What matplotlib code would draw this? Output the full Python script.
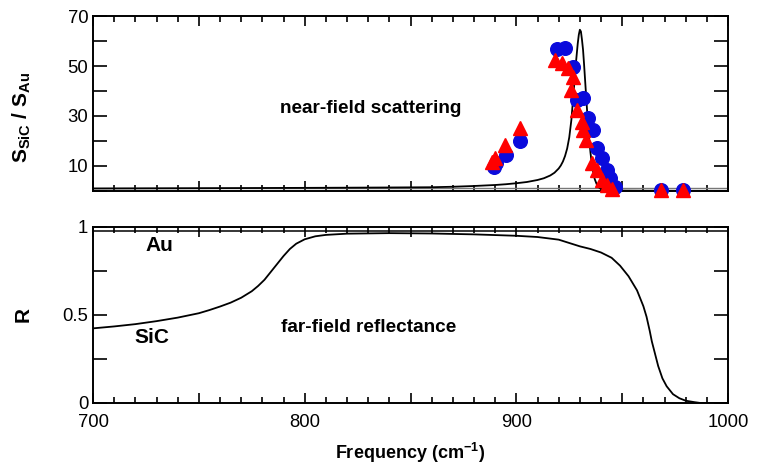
import matplotlib
matplotlib.use("Agg")
import matplotlib.pyplot as plt
from matplotlib.ticker import MultipleLocator, FuncFormatter

plt.rcParams['font.family'] = ['Liberation Sans', 'DejaVu Sans']
plt.rcParams['mathtext.fontset'] = 'custom'
plt.rcParams['mathtext.rm'] = 'Liberation Sans'
plt.rcParams['mathtext.bf'] = 'Liberation Sans:bold'
plt.rcParams['mathtext.it'] = 'Liberation Sans:italic'

# ---- near-field calculated curve (S_SiC / S_Au) ----
nf_freq = [700, 720, 740, 760, 780, 800, 820, 840, 860, 870, 880, 890, 895, 900,
           905, 910, 913, 916, 918, 920, 921, 922, 923, 924, 925, 926, 927, 928,
           929, 929.5, 930, 930.5, 931, 931.5, 932, 932.5, 933, 933.5, 934, 934.5,
           935, 935.5, 936, 937, 938, 939, 940, 942, 945, 950, 960, 970, 980, 990, 1000]
nf_val = [1.0, 1.05, 1.1, 1.15, 1.2, 1.25, 1.32, 1.4, 1.5, 1.7, 2.0, 2.4, 2.7, 3.1,
          3.6, 4.4, 5.1, 6.2, 7.3, 9.0, 10.2, 11.8, 14.0, 17.0, 21.5, 28.5, 39.0, 50.0,
          59.0, 62.5, 64.5, 63.8, 60.5, 56.5, 50.5, 44.0, 37.5, 31.0, 25.0, 20.0,
          15.5, 11.8, 8.8, 4.8, 2.6, 1.4, 0.8, 0.4, 0.25, 0.15, 0.1, 0.08, 0.06, 0.05, 0.05]

# ---- measured points ----
circ_freq = [889.4, 890.5, 895.0, 901.7, 919.0, 923.0, 926.9, 928.5, 931.5, 934.0,
             936.0, 937.9, 940.3, 942.6, 944.2, 946.8, 968.3, 978.5]
circ_val = [9.7, 11.0, 14.4, 20.0, 56.7, 57.1, 49.7, 36.4, 37.1, 29.2,
            24.4, 17.2, 13.2, 8.4, 5.2, 1.7, 0.2, 0.2]

tri_freq = [888.5, 889.8, 894.6, 901.7, 918.2, 921.4, 924.5, 926.6, 925.6, 928.5,
            930.8, 931.6, 932.9, 935.6, 937.9, 940.3, 942.6, 945.0, 968.3, 978.5]
tri_val = [11.5, 13.2, 18.4, 25.1, 52.4, 51.1, 49.1, 45.7, 40.4, 32.4,
           27.7, 24.4, 20.4, 11.1, 8.4, 4.4, 2.4, 0.8, 0.4, 0.4]

# ---- far-field reflectance ----
ff_freq = [700, 710, 720, 730, 740, 750, 755, 760, 765, 770, 775, 778, 781, 784,
           787, 790, 793, 796, 800, 805, 810, 820, 840, 860, 880, 900, 910, 920,
           930, 935, 940, 945, 949, 953, 957, 960, 961.5, 963, 964, 965.5, 967,
           969, 971, 974, 977, 980, 984, 987, 1000]
ff_val = [0.424, 0.435, 0.448, 0.465, 0.485, 0.51, 0.528, 0.548, 0.57, 0.598,
          0.635, 0.665, 0.70, 0.745, 0.79, 0.835, 0.875, 0.905, 0.93, 0.947,
          0.955, 0.962, 0.965, 0.963, 0.958, 0.95, 0.943, 0.928, 0.89, 0.875,
          0.855, 0.825, 0.78, 0.72, 0.64, 0.55, 0.49, 0.41, 0.35, 0.28, 0.21,
          0.14, 0.095, 0.05, 0.027, 0.013, 0.005, 0.0, 0.0]

au_ratio = [1.0, 1.0]
au_R = [0.98, 0.98]
x_range = [700, 1000]

fig = plt.figure(figsize=(7.7, 4.68), dpi=100)
ax1 = fig.add_axes([0.1208, 0.5919, 0.8247, 0.3739])
ax2 = fig.add_axes([0.1208, 0.1389, 0.8247, 0.3761])

for ax in (ax1, ax2):
    ax.set_xlim(700, 1000)
    ax.xaxis.set_major_locator(MultipleLocator(50))
    ax.xaxis.set_minor_locator(MultipleLocator(10))
    ax.tick_params(which='both', direction='in', top=True, right=True, width=1.2,
                   labelsize=13.3)
    ax.tick_params(which='major', axis='x', length=7)
    ax.tick_params(which='minor', axis='x', length=4)
    ax.tick_params(which='major', axis='y', length=10)
    for s in ax.spines.values():
        s.set_linewidth(1.4)

# upper panel
ax1.plot(x_range, au_ratio, color='#777777', lw=1.0)
ax1.plot(nf_freq, nf_val, color='black', lw=1.3)
ax1.plot(circ_freq, circ_val, 'o', color='#0a0adc', ms=9.8, mec='#0a0adc',
         clip_on=False, zorder=3)
ax1.plot(tri_freq, tri_val, '^', color='#ff0000', ms=9.8, mec='#ff0000',
         clip_on=False, zorder=4)
ax1.set_ylim(0, 70)
ax1.yaxis.set_major_locator(MultipleLocator(10))
ax1.yaxis.set_major_formatter(FuncFormatter(lambda v, p: f'{int(round(v))}' if int(round(v)) % 20 == 10 else ''))
ax1.tick_params(axis='x', labelbottom=False)
ax1.set_ylabel(r'$\mathbf{S_{SiC}\ /\ S_{Au}}$', fontsize=15)
ax1.yaxis.set_label_coords(-0.095, 0.42)
ax1.text(831, 33, 'near-field scattering', fontsize=13.7, fontweight='bold',
         ha='center', va='center')

# lower panel
ax2.plot(x_range, au_R, color='black', lw=1.1)
ax2.plot(ff_freq, ff_val, color='black', lw=1.3)
ax2.set_ylim(0, 1)
ax2.yaxis.set_major_locator(MultipleLocator(0.25))
def rfmt(v, p):
    if abs(v) < 1e-9:
        return '0'
    if abs(v - 0.5) < 1e-9:
        return '0.5'
    if abs(v - 1) < 1e-9:
        return '1'
    return ''
ax2.yaxis.set_major_formatter(FuncFormatter(rfmt))
ax2.xaxis.set_major_formatter(FuncFormatter(lambda v, p: f'{int(round(v))}' if int(round(v)) % 100 == 0 else ''))
ax2.tick_params(axis='x', pad=8)
ax2.set_ylabel('R', fontsize=15, fontweight='bold')
ax2.yaxis.set_label_coords(-0.095, 0.5)
ax2.set_xlabel(r'Frequency (cm$^{\mathbf{-1}}$)', fontsize=13, fontweight='bold', labelpad=7)
ax2.text(731.5, 0.895, 'Au', fontsize=15, fontweight='bold', ha='center', va='center')
ax2.text(728, 0.37, 'SiC', fontsize=15, fontweight='bold', ha='center', va='center')
ax2.text(830, 0.43, 'far-field reflectance', fontsize=13.7, fontweight='bold',
         ha='center', va='center')

fig.savefig('out.png', dpi=100)
